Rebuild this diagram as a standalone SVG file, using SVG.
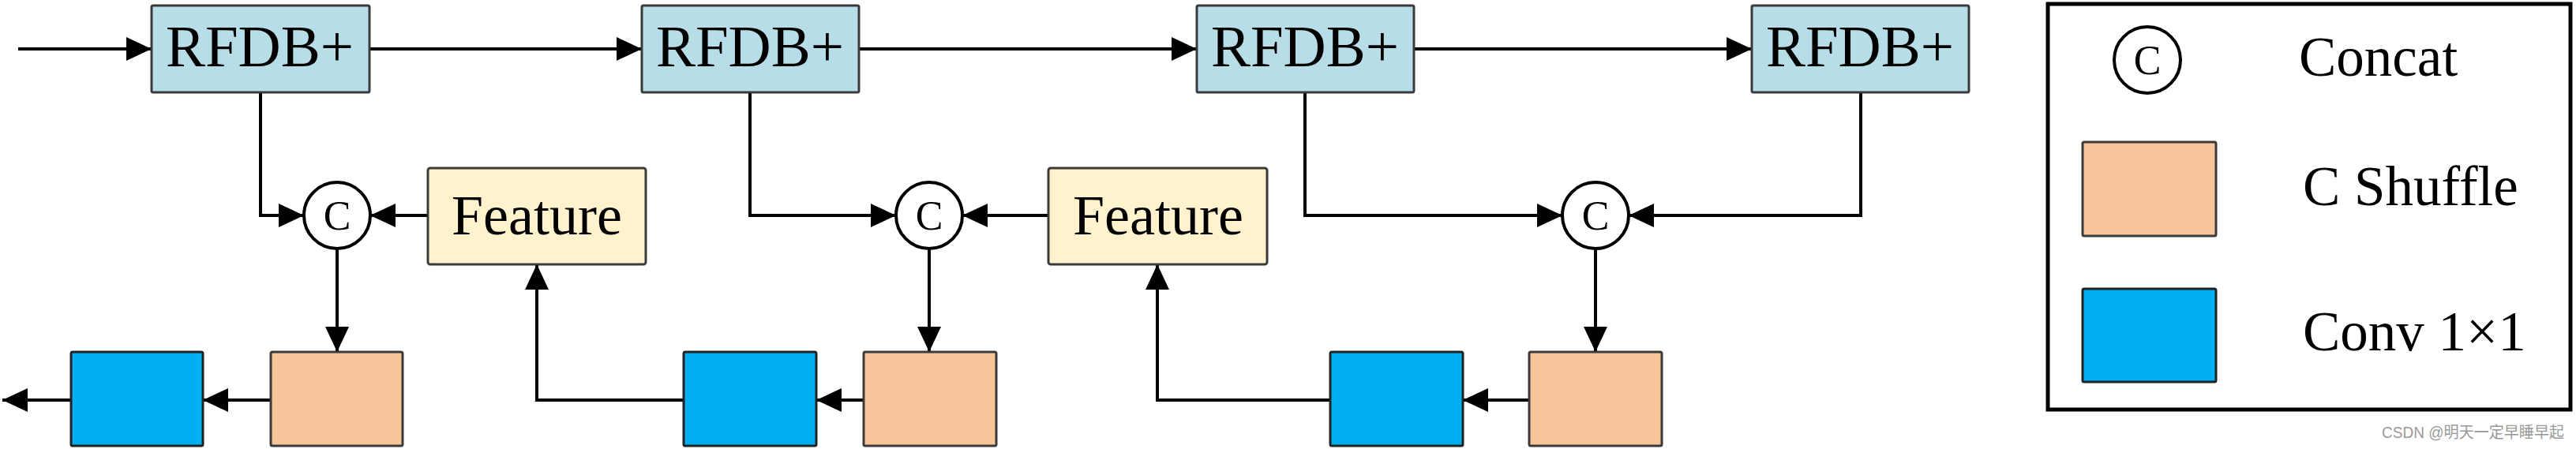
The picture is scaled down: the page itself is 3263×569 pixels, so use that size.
<svg xmlns="http://www.w3.org/2000/svg" width="3263" height="569" viewBox="0 0 3263 569">
<style>
.rfdb{fill:#B7DEE8;stroke:#3a3a3a;stroke-width:3}
.feat{fill:#FFF2CC;stroke:#3a3a3a;stroke-width:3}
.shuf{fill:#F8C59B;stroke:#3a3a3a;stroke-width:3}
.conv{fill:#00B0F0;stroke:#222;stroke-width:3}
.circ{fill:#fff;stroke:#000;stroke-width:4}
.t{font-family:"Liberation Serif","Times New Roman",serif;fill:#000}
.big{font-size:75px;text-anchor:middle}
.fe{font-size:72px;text-anchor:middle}
.c{font-size:52px;text-anchor:middle}
.lg{font-size:71px}
.ln{fill:none;stroke:#000;stroke-width:4;marker-end:url(#ah)}
</style>
<defs>
<marker id="ah" markerUnits="userSpaceOnUse" markerWidth="34" markerHeight="32" refX="32" refY="15" orient="auto">
<path d="M0,0 L32,15 L0,30 Z" fill="#000"/>
</marker>
</defs>
<g id="connectors">
<path class="ln" d="M23,62 H192"/>
<path class="ln" d="M468,62 H813"/>
<path class="ln" d="M1088,62 H1516"/>
<path class="ln" d="M1791,62 H2219"/>
<path class="ln" d="M330,118 V273 H385"/>
<path class="ln" d="M542,273 H469"/>
<path class="ln" d="M427,315 V446"/>
<path class="ln" d="M343,507 H257"/>
<path class="ln" d="M90,507 H3"/>
<path class="ln" d="M950,118 V273 H1135"/>
<path class="ln" d="M1328,273 H1219"/>
<path class="ln" d="M1177,315 V446"/>
<path class="ln" d="M1094,507 H1034"/>
<path class="ln" d="M866,507 H680 V335"/>
<path class="ln" d="M1653,118 V273 H1979"/>
<path class="ln" d="M2357,118 V273 H2063"/>
<path class="ln" d="M2021,315 V446"/>
<path class="ln" d="M1937,507 H1853"/>
<path class="ln" d="M1685,507 H1466 V335"/>
</g>
<g id="rfdb1"><rect class="rfdb" x="192" y="7" width="276" height="110" rx="2"/><text class="t big" x="329" y="84">RFDB+</text></g>
<g id="rfdb2"><rect class="rfdb" x="813" y="7" width="275" height="110" rx="2"/><text class="t big" x="950" y="84">RFDB+</text></g>
<g id="rfdb3"><rect class="rfdb" x="1516" y="7" width="275" height="110" rx="2"/><text class="t big" x="1653" y="84">RFDB+</text></g>
<g id="rfdb4"><rect class="rfdb" x="2219" y="7" width="275" height="110" rx="2"/><text class="t big" x="2356" y="84">RFDB+</text></g>
<g id="concat1"><ellipse class="circ" cx="427" cy="273" rx="42" ry="42"/><text class="t c" x="427" y="291">C</text></g>
<g id="concat2"><ellipse class="circ" cx="1177" cy="273" rx="42" ry="42"/><text class="t c" x="1177" y="291">C</text></g>
<g id="concat3"><ellipse class="circ" cx="2021" cy="273" rx="42" ry="42"/><text class="t c" x="2021" y="291">C</text></g>
<g id="feature1"><rect class="feat" x="542" y="213" width="276" height="122" rx="3"/><text class="t fe" x="680" y="297">Feature</text></g>
<g id="feature2"><rect class="feat" x="1328" y="213" width="277" height="122" rx="3"/><text class="t fe" x="1467" y="297">Feature</text></g>
<g id="shuffle1"><rect class="shuf" x="343" y="446" width="167" height="119" rx="2"/></g>
<g id="shuffle2"><rect class="shuf" x="1094" y="446" width="168" height="119" rx="2"/></g>
<g id="shuffle3"><rect class="shuf" x="1937" y="446" width="168" height="119" rx="2"/></g>
<g id="conv1"><rect class="conv" x="90" y="446" width="167" height="119" rx="2"/></g>
<g id="conv2"><rect class="conv" x="866" y="446" width="168" height="119" rx="2"/></g>
<g id="conv3"><rect class="conv" x="1685" y="446" width="168" height="119" rx="2"/></g>
<g id="legend">
<rect x="2594" y="5" width="662" height="514" fill="#fff" stroke="#000" stroke-width="5"/>
<ellipse class="circ" cx="2720" cy="76" rx="42" ry="42"/>
<text class="t c" x="2720" y="94">C</text>
<text class="t lg" x="2912" y="96">Concat</text>
<rect class="shuf" x="2638" y="180" width="169" height="119" rx="2"/>
<text class="t lg" x="2917" y="260">C Shuffle</text>
<rect class="conv" x="2638" y="366" width="169" height="118" rx="2"/>
<text class="t lg" x="2917" y="444">Conv 1×1</text>
</g>
<text x="3017" y="555" font-family="'Liberation Sans','Noto Sans CJK SC',sans-serif" font-size="20" fill="#999" textLength="231" lengthAdjust="spacingAndGlyphs">CSDN @明天一定早睡早起</text>
</svg>
